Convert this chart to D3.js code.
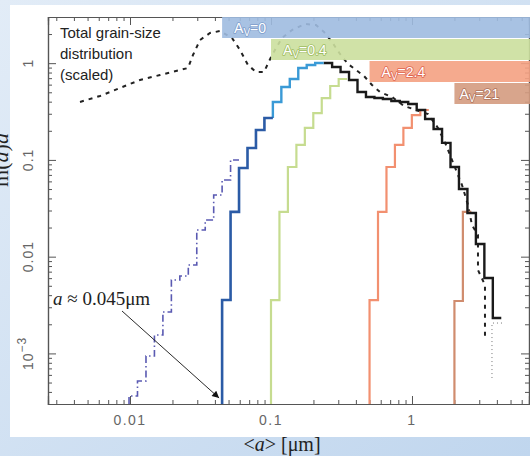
<!DOCTYPE html>
<html>
<head>
<meta charset="utf-8">
<script src="https://cdn.jsdelivr.net/npm/d3@7"></script>
<style>
    body { margin: 0; background: #c6daf0; }
    svg { display: block; }
</style>
</head>
<body>
<svg id="chart" width="530" height="456"></svg>
<script>
// small grains, dash-dot purple
const purpleEdges = [0.00984, 0.01130, 0.01298, 0.01490, 0.01711, 0.01965, 0.02256, 0.02591, 0.02975, 0.03416, 0.03922, 0.04500, 0.05167, 0.05933];
const purpleValues = [0.000363, 0.000519, 0.000940, 0.00155, 0.00268, 0.00574, 0.00631, 0.00820, 0.01886, 0.0239, 0.0434, 0.0620, 0.0998];

// Av = 0 (dark part, then light part)
const blueEdges = [0.045, 0.05167, 0.05933, 0.06813, 0.07822, 0.08982, 0.1031];
const blueValues = [0.00356, 0.0290, 0.0825, 0.133, 0.204, 0.271];
const lightBlueEdges = [0.1031, 0.1184, 0.1359, 0.1561, 0.1792, 0.2058, 0.2362];
const lightBlueValues = [0.397, 0.567, 0.686, 0.891, 0.957, 1.004];

// common large-grain part
const blackEdges = [0.2362, 0.2713, 0.3115, 0.3577, 0.4107, 0.4716, 0.5415, 0.6217, 0.7139, 0.8190, 0.9402, 1.080, 1.239, 1.423, 1.634, 1.876, 2.154, 2.473, 2.840, 3.261, 3.744, 4.298];
const blackValues = [1.004, 0.913, 0.810, 0.670, 0.503, 0.447, 0.436, 0.426, 0.406, 0.397, 0.378, 0.328, 0.265, 0.209, 0.150, 0.0845, 0.0500, 0.0283, 0.0135, 0.00602, 0.00232];

// Av = 0.4, 2.4, 21
const greenEdges = [0.1, 0.1148, 0.1318, 0.1514, 0.1738, 0.1995, 0.2291, 0.2630, 0.3020, 0.3467];
const greenValues = [0.00356, 0.0290, 0.0845, 0.143, 0.214, 0.305, 0.436, 0.581, 0.686];
const salmonEdges = [0.5, 0.5741, 0.6592, 0.7569, 0.8690, 0.9978, 1.1457, 1.3155];
const salmonValues = [0.00356, 0.0290, 0.0845, 0.143, 0.214, 0.291, 0.328];
const brownEdges = [2.0, 2.296, 2.637];
const brownValues = [0.00348, 0.0290];

// total grain-size distribution (scaled), dashed
const totalA = [0.004418, 0.006126, 0.008494, 0.01177, 0.01632, 0.02579, 0.02797, 0.03137, 0.03694, 0.04348, 0.05289, 0.06029, 0.06868, 0.07829, 0.08923, 0.1017, 0.1197, 0.1409, 0.1742, 0.2085, 0.2377, 0.2708, 0.3087, 0.3517, 0.4008, 0.4567, 0.5204, 0.5929, 0.7215, 0.8776, 1.068, 1.299, 1.529, 1.742, 1.986, 2.263, 2.496, 2.664, 2.938, 2.938, 3.294, 3.294];
const totalV = [0.397, 0.458, 0.554, 0.670, 0.754, 0.891, 1.214, 1.735, 2.050, 2.149, 1.820, 1.368, 0.957, 0.810, 0.810, 1.214, 1.820, 2.202, 2.540, 2.480, 2.100, 1.654, 1.244, 0.980, 0.850, 0.737, 0.595, 0.503, 0.447, 0.361, 0.328, 0.298, 0.214, 0.143, 0.0886, 0.0550, 0.0342, 0.0212, 0.0167, 0.00728, 0.00509, 0.001376];

// thin dotted tail
const tailA = [4.348, 3.693, 3.693];
const tailV = [0.00206, 0.00206, 0.000557];

// extinction bands
const cutoffs = [0.045, 0.1, 0.5, 2.0];
const avLabels = ['0', '0.4', '2.4', '21'];
const bandColors = ['#9fbbe0', '#cbdf9d', '#f4a182', '#d49b80'];
const bandStrokes = ['#7d9dcc', '#9fbd62', '#e0644f', '#b0735b'];

const xTickValues = [0.01, 0.1, 1];
const xTickLabels = ['0.01', '0.1', '1'];
const yTickValues = [1, 0.1, 0.01, 0.001];
const yTickLabels = ['1', '0.1', '0.01', '10|-3'];

const svg = d3.select('#chart');
const pLeft = 48, pRight = 529, pTop = 17, pBottom = 404;

const x = d3.scaleLog().domain([0.00262, 6.76]).range([pLeft, pRight]);
const y = d3.scaleLog().domain([3e-4, 3]).range([pBottom, pTop]);

// background
const defs = svg.append('defs');
const grad = defs.append('linearGradient').attr('id', 'bg')
    .attr('x1', 0).attr('y1', 0).attr('x2', 1).attr('y2', 1);
grad.append('stop').attr('offset', '0%').attr('stop-color', '#e2ecf7');
grad.append('stop').attr('offset', '100%').attr('stop-color', '#c0d6ee');
svg.append('rect').attr('width', 530).attr('height', 456).attr('fill', 'url(#bg)');
svg.append('rect').attr('x', 10).attr('y', 5).attr('width', 520).attr('height', 432).attr('fill', '#fff');

defs.append('clipPath').attr('id', 'plot')
    .append('rect').attr('x', pLeft).attr('y', pTop).attr('width', pRight - pLeft).attr('height', pBottom - pTop);

defs.append('marker').attr('id', 'arrow')
    .attr('viewBox', '0 0 10 10').attr('refX', 10).attr('refY', 5)
    .attr('markerWidth', 9).attr('markerHeight', 7).attr('orient', 'auto')
    .attr('markerUnits', 'userSpaceOnUse')
    .append('path').attr('d', 'M0,0 L10,5 L0,10 z').attr('fill', '#111');

// axes: minor ticks 1..9 of each decade, majors at powers of ten
function logTicks(scale) {
    return scale.ticks().filter(t => {
        const m = t / Math.pow(10, Math.floor(Math.log10(t) + 1e-9));
        return Math.abs(m - Math.round(m)) < 1e-6;
    });
}
const isMajor = t => Math.abs(Math.log10(t) - Math.round(Math.log10(t))) < 1e-6;

function drawAxis(axisFn, scale, transform) {
    const ticks = logTicks(scale);
    const g1 = svg.append('g').attr('transform', transform)
        .call(axisFn(scale).tickValues(ticks.filter(t => !isMajor(t))).tickSize(-4).tickFormat(''));
    const g2 = svg.append('g').attr('transform', transform)
        .call(axisFn(scale).tickValues(ticks.filter(isMajor)).tickSize(-8).tickFormat(''));
    [g1, g2].forEach(g => {
        g.select('.domain').attr('stroke', '#555').attr('stroke-width', 1.2);
        g.selectAll('.tick line').attr('stroke', '#555').attr('stroke-width', 1);
    });
}
drawAxis(d3.axisBottom, x, `translate(0,${pBottom})`);
drawAxis(d3.axisTop, x, `translate(0,${pTop})`);
drawAxis(d3.axisLeft, y, `translate(${pLeft},0)`);
drawAxis(d3.axisRight, y, `translate(${pRight},0)`);

// tick labels
xTickValues.forEach((v, i) => {
    svg.append('text')
        .attr('x', x(v)).attr('y', 425)
        .attr('text-anchor', 'middle')
        .attr('font-family', 'Liberation Sans, Arial, sans-serif')
        .attr('font-size', 14).attr('letter-spacing', 1.5)
        .attr('fill', '#666')
        .text(xTickLabels[i]);
});
yTickValues.forEach((v, i) => {
    const t = svg.append('text')
        .attr('transform', `translate(33,${y(v)}) rotate(-90)`)
        .attr('text-anchor', 'middle')
        .attr('font-family', 'Liberation Sans, Arial, sans-serif')
        .attr('font-size', 14).attr('letter-spacing', 1)
        .attr('fill', '#666');
    const parts = yTickLabels[i].split('|');
    t.append('tspan').text(parts[0]);
    if (parts[1]) t.append('tspan').attr('dy', -7).attr('font-size', 12).text(parts[1].replace('-', '\u2212'));
});

// axis titles
const yTitle = svg.append('text')
    .attr('transform', 'translate(8,160) rotate(-90)')
    .attr('text-anchor', 'middle')
    .attr('font-family', 'Liberation Serif, Times New Roman, serif')
    .attr('font-size', 22).attr('fill', '#222');
yTitle.append('tspan').text('m(');
yTitle.append('tspan').attr('font-style', 'italic').text('a');
yTitle.append('tspan').text(')');
yTitle.append('tspan').attr('font-style', 'italic').text('a');

const xTitle = svg.append('text')
    .attr('x', 282).attr('y', 451)
    .attr('text-anchor', 'middle')
    .attr('font-family', 'Liberation Serif, Times New Roman, serif')
    .attr('font-size', 20).attr('fill', '#222');
xTitle.append('tspan').text('<');
xTitle.append('tspan').attr('font-style', 'italic').text('a');
xTitle.append('tspan').text('> [\u03bcm]');

// curves
const plot = svg.append('g').attr('clip-path', 'url(#plot)');
const ymin = y.domain()[0];

function stepPoints(edges, values, start) {
    const pts = [[edges[0], start]];
    values.forEach((v, i) => pts.push([edges[i], v]));
    pts.push([edges[edges.length - 1], values[values.length - 1]]);
    return pts;
}
const stepLine = d3.line().x(d => x(d[0])).y(d => y(d[1])).curve(d3.curveStepAfter);
const polyLine = d3.line().x(d => x(d[0])).y(d => y(d[1]));

function drawPath(gen, pts, color, width, dash) {
    plot.append('path')
        .attr('d', gen(pts))
        .attr('fill', 'none')
        .attr('stroke', color)
        .attr('stroke-width', width)
        .attr('stroke-dasharray', dash || null)
        .attr('stroke-linejoin', 'miter');
}

drawPath(polyLine, tailA.map((a, i) => [a, tailV[i]]), '#777', 1, '1,3');
drawPath(polyLine, totalA.map((a, i) => [a, totalV[i]]), '#222', 2, '4,5');
drawPath(stepLine, stepPoints(purpleEdges, purpleValues, ymin), '#5a5ab2', 1.6, '7,3,1.5,3');
drawPath(stepLine, stepPoints(brownEdges, brownValues, ymin), '#d08c6e', 2.2);
drawPath(stepLine, stepPoints(salmonEdges, salmonValues, ymin), '#f29070', 2.2);
drawPath(stepLine, stepPoints(greenEdges, greenValues, ymin), '#c6dc90', 2.2);
drawPath(stepLine, stepPoints(blackEdges, blackValues, blackValues[0]), '#1a1a1a', 2.4);
drawPath(stepLine, stepPoints(lightBlueEdges, lightBlueValues, blueValues[blueValues.length - 1]), '#3a9ad6', 2.4);
drawPath(stepLine, stepPoints(blueEdges, blueValues, ymin), '#2b5ba6', 2.6);

// bands
const bandH = 22;
cutoffs.forEach((c, i) => {
    const by = pTop + i * bandH;
    svg.append('rect')
        .attr('x', x(c)).attr('y', by)
        .attr('width', 530 - x(c)).attr('height', bandH - 1)
        .attr('fill', bandColors[i]).attr('opacity', 0.9);
    const t = svg.append('text')
        .attr('x', x(c) + (i === 3 ? 5 : 12)).attr('y', by + 16)
        .attr('font-family', 'Liberation Sans, Arial, sans-serif')
        .attr('font-size', 14)
        .attr('fill', '#fff')
        .attr('stroke', bandStrokes[i]).attr('stroke-width', 1.6)
        .attr('paint-order', 'stroke')
        .attr('stroke-linejoin', 'round');
    t.append('tspan').text('A');
    t.append('tspan').attr('dy', 3).attr('font-size', 10).text('V');
    t.append('tspan').attr('dy', -3).text('=' + avLabels[i]);
});

// legend text
['Total grain-size', 'distribution', '(scaled)'].forEach((s, i) => {
    svg.append('text')
        .attr('x', 60).attr('y', 38 + i * 21)
        .attr('font-family', 'Liberation Sans, Arial, sans-serif')
        .attr('font-size', 15).attr('fill', '#222')
        .text(s);
});

// annotation
const note = svg.append('text')
    .attr('x', 53).attr('y', 305)
    .attr('font-family', 'Liberation Serif, Times New Roman, serif')
    .attr('font-size', 19).attr('fill', '#222');
note.append('tspan').attr('font-style', 'italic').text('a');
note.append('tspan').text(' \u2248 0.045\u03bcm');

svg.append('line')
    .attr('x1', 122).attr('y1', 311)
    .attr('x2', x(cutoffs[0]) - 3).attr('y2', 398)
    .attr('stroke', '#111').attr('stroke-width', 0.9)
    .attr('marker-end', 'url(#arrow)');
</script>
</body>
</html>
